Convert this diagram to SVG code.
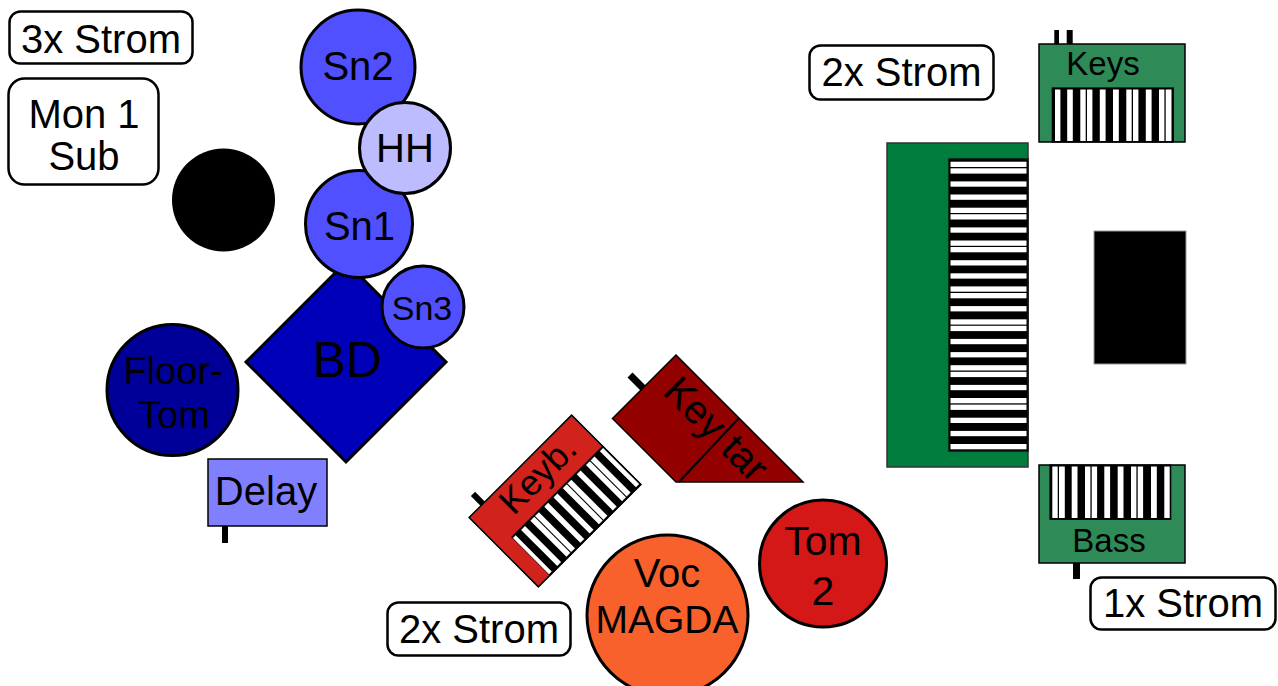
<svg xmlns="http://www.w3.org/2000/svg" width="1278" height="686" viewBox="0 0 1278 686">
<style>
text{font-family:"Liberation Sans",Arial,sans-serif;fill:#000;text-anchor:middle}
.box{fill:#fff;stroke:#000;stroke-width:2.5}
.ol{stroke:#000;stroke-width:3}
.thin{stroke:#000;stroke-width:1.5}
.wk{fill:#fff}
.plug{fill:#000}
</style>
<rect width="1278" height="686" fill="#fff"/>
<g id="connectors"/>

<g id="strom3"><rect class="box" x="9.5" y="11.5" width="183" height="52" rx="11"/><text x="101" y="53" font-size="40">3x Strom</text></g>
<g id="mon1sub"><rect class="box" x="8.5" y="78.5" width="150" height="106" rx="16"/><text x="84" y="128" font-size="40">Mon 1</text><text x="84" y="170" font-size="40">Sub</text></g>
<g id="sub"><circle cx="223.5" cy="200" r="51.5" fill="#000"/></g>

<g id="bd"><polygon class="ol" points="346,262 446,362 346,462 246,362" fill="#0000b8" stroke-width="2"/><text x="347" y="377" font-size="50">BD</text></g>
<g id="sn2"><circle class="ol" cx="358" cy="67" r="57" fill="#5050ff"/><text x="358" y="80" font-size="40">Sn2</text></g>
<g id="sn1"><circle class="ol" cx="359" cy="224" r="53.5" fill="#5050ff"/><text x="359.5" y="240" font-size="40">Sn1</text></g>
<g id="hh"><circle class="ol" cx="405" cy="148" r="45.5" fill="#bcbcff"/><text x="405" y="162" font-size="40">HH</text></g>
<g id="sn3"><circle class="ol" cx="423" cy="307" r="41" fill="#5050ff"/><text x="422" y="320" font-size="34">Sn3</text></g>
<g id="floortom"><circle class="ol" cx="172.5" cy="390" r="65.5" fill="#000099"/><text x="173" y="384" font-size="38">Floor-</text><text x="174" y="428" font-size="38">Tom</text></g>
<g id="delay"><rect class="plug" x="222" y="526" width="6" height="17"/><rect class="thin" x="208" y="459" width="119" height="67" fill="#8080ff"/><text x="266" y="505" font-size="40">Delay</text></g>

<g id="keyb" transform="translate(555,501) rotate(-45)">
<rect class="plug" x="-56" y="-63" width="6" height="14"/>
<rect class="thin" x="-72.5" y="-49" width="145" height="98" fill="#d2221c"/>
<rect x="-56" y="-5" width="128.5" height="54" fill="#000" stroke="#000" stroke-width="1"/>
<g class="wk">
<rect x="-56" y="-3.5" width="3.9" height="51"/>
<rect x="-44.4" y="-3.5" width="5.5" height="51"/>
<rect x="-31.3" y="-3.5" width="5.5" height="51"/>
<rect x="-24.75" y="-3.5" width="5.5" height="51"/>
<rect x="-11.65" y="-3.5" width="5.5" height="51"/>
<rect x="1.45" y="-3.5" width="5.5" height="51"/>
<rect x="14.55" y="-3.5" width="5.5" height="51"/>
<rect x="21.1" y="-3.5" width="5.5" height="51"/>
<rect x="34.2" y="-3.5" width="5.5" height="51"/>
<rect x="47.3" y="-3.5" width="5.5" height="51"/>
<rect x="53.85" y="-3.5" width="5.5" height="51"/>
<rect x="66.95" y="-3.5" width="4.5" height="51"/>
</g>
<text x="-40" y="-18.4" font-size="36" style="text-anchor:start">Keyb.</text>
</g>

<g id="keytar">
<line x1="643" y1="388" x2="630" y2="375" stroke="#000" stroke-width="7"/>
<polygon class="thin" points="676,355 803,482 676,482 612.5,418.5" fill="#920000"/>
<line x1="739" y1="418" x2="679" y2="482" stroke="#000" stroke-width="2"/>
<text transform="translate(710,442) rotate(45)" font-size="40" style="text-anchor:end">Key</text>
<text transform="translate(719,451) rotate(45)" font-size="40" style="text-anchor:start">tar</text>
</g>

<g id="strom2b"><rect class="box" x="387.5" y="602.5" width="183" height="53" rx="11"/><text x="479" y="643" font-size="40">2x Strom</text></g>
<g id="voc"><circle class="ol" cx="667.5" cy="615.5" r="80.5" fill="#f8602c"/><text x="667" y="587" font-size="40">Voc</text><text x="667" y="633" font-size="39">MAGDA</text></g>
<g id="tom2"><circle class="ol" cx="823" cy="563.5" r="63.5" fill="#d41818"/><text x="823" y="555" font-size="41">Tom</text><text x="823" y="605" font-size="41">2</text></g>

<g id="strom2t"><rect class="box" x="809.5" y="45.5" width="184" height="54" rx="11"/><text x="901.5" y="86" font-size="40">2x Strom</text></g>

<g id="mainkeys">
<rect x="887" y="143" width="141" height="324" fill="#007c3c" stroke="#333" stroke-width="1.5"/>
<rect x="949" y="159" width="79" height="292" fill="#000" stroke="#111" stroke-width="1.5"/>
<g class="wk">
<rect x="950.5" y="161.7" width="76" height="5.3"/>
<rect x="950.5" y="168.3" width="76" height="5.3"/>
<rect x="950.5" y="181.4" width="76" height="5.3"/>
<rect x="950.5" y="194.5" width="76" height="5.3"/>
<rect x="950.5" y="207.7" width="76" height="5.3"/>
<rect x="950.5" y="214.2" width="76" height="5.3"/>
<rect x="950.5" y="227.4" width="76" height="5.3"/>
<rect x="950.5" y="240.5" width="76" height="5.3"/>
<rect x="950.5" y="247.0" width="76" height="5.3"/>
<rect x="950.5" y="260.2" width="76" height="5.3"/>
<rect x="950.5" y="273.3" width="76" height="5.3"/>
<rect x="950.5" y="286.4" width="76" height="5.3"/>
<rect x="950.5" y="293.0" width="76" height="5.3"/>
<rect x="950.5" y="306.1" width="76" height="5.3"/>
<rect x="950.5" y="319.3" width="76" height="5.3"/>
<rect x="950.5" y="325.8" width="76" height="5.3"/>
<rect x="950.5" y="338.9" width="76" height="5.3"/>
<rect x="950.5" y="352.1" width="76" height="5.3"/>
<rect x="950.5" y="365.2" width="76" height="5.3"/>
<rect x="950.5" y="371.8" width="76" height="5.3"/>
<rect x="950.5" y="384.9" width="76" height="5.3"/>
<rect x="950.5" y="398.0" width="76" height="5.3"/>
<rect x="950.5" y="404.6" width="76" height="5.3"/>
<rect x="950.5" y="417.7" width="76" height="5.3"/>
<rect x="950.5" y="430.9" width="76" height="5.3"/>
<rect x="950.5" y="444.0" width="76" height="5.3"/>
</g>
</g>

<g id="amp"><rect x="1094" y="231" width="92" height="133" fill="#000" stroke="#999" stroke-width="1"/></g>

<g id="keys">
<rect class="plug" x="1054.3" y="30" width="4.7" height="14"/>
<rect class="plug" x="1066.7" y="30" width="6" height="14"/>
<rect class="thin" x="1039" y="44" width="146" height="98" fill="#2e8b57"/>
<rect x="1052.3" y="88" width="121" height="54" fill="#000" stroke="#000" stroke-width="1.2"/>
<g class="wk">
<rect x="1055" y="89.5" width="5.4" height="51.5"/>
<rect x="1067.2" y="89.5" width="5.6" height="51.5"/>
<rect x="1080.3" y="89.5" width="5.4" height="51.5"/>
<rect x="1087" y="89.5" width="5.4" height="51.5"/>
<rect x="1099.8" y="89.5" width="5.8" height="51.5"/>
<rect x="1113" y="89.5" width="5.8" height="51.5"/>
<rect x="1126.3" y="89.5" width="5.4" height="51.5"/>
<rect x="1133" y="89.5" width="5.4" height="51.5"/>
<rect x="1145.8" y="89.5" width="5.8" height="51.5"/>
<rect x="1159" y="89.5" width="5.4" height="51.5"/>
<rect x="1165.7" y="89.5" width="5.8" height="51.5"/>
</g>
<text x="1103" y="75" font-size="33">Keys</text>
</g>

<g id="bass">
<rect class="plug" x="1073" y="563" width="7" height="16"/>
<rect class="thin" x="1039" y="465" width="146" height="98" fill="#2e8b57"/>
<rect x="1050" y="465" width="120.7" height="54.3" fill="#000" stroke="#000" stroke-width="1.2"/>
<g class="wk">
<rect x="1052.3" y="466.5" width="5.4" height="51.5"/>
<rect x="1059" y="466.5" width="5.8" height="51.5"/>
<rect x="1071.7" y="466.5" width="5.8" height="51.5"/>
<rect x="1085" y="466.5" width="5.4" height="51.5"/>
<rect x="1091.7" y="466.5" width="5.4" height="51.5"/>
<rect x="1104.3" y="466.5" width="5.8" height="51.5"/>
<rect x="1117.7" y="466.5" width="5.8" height="51.5"/>
<rect x="1131" y="466.5" width="5.4" height="51.5"/>
<rect x="1137.7" y="466.5" width="5.4" height="51.5"/>
<rect x="1151" y="466.5" width="5.8" height="51.5"/>
<rect x="1164.3" y="466.5" width="5.4" height="51.5"/>
</g>
<text x="1109" y="552" font-size="33">Bass</text>
</g>

<g id="strom1"><rect class="box" x="1090.5" y="577.5" width="185" height="52" rx="11"/><text x="1183" y="617" font-size="40">1x Strom</text></g>
</svg>
